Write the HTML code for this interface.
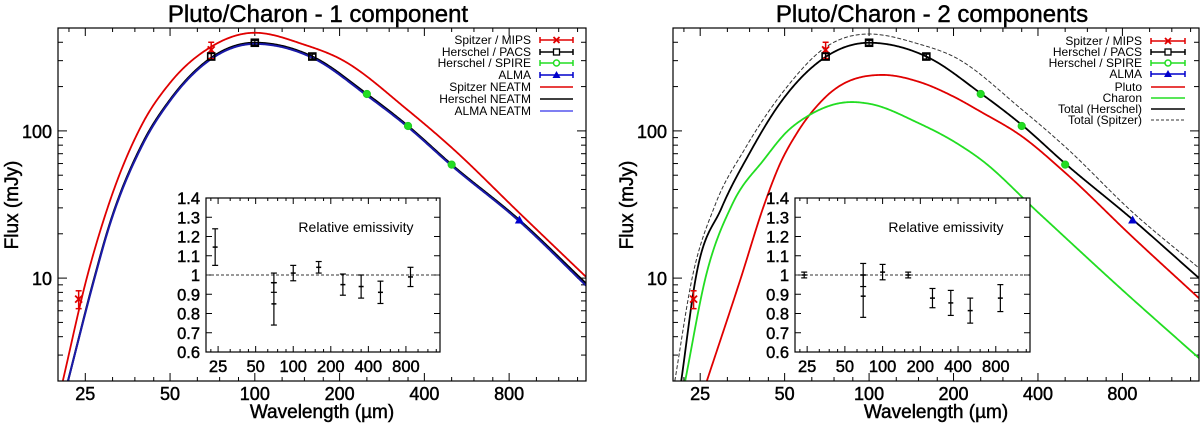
<!DOCTYPE html>
<html><head><meta charset="utf-8"><style>
html,body{margin:0;padding:0;background:#fff;}
svg{display:block;font-family:"Liberation Sans",Arial,sans-serif;}
.hv{stroke:#000;stroke-width:0.45px;}
</style></head><body>
<svg id="chart" width="1200" height="423" viewBox="0 0 1200 423" xmlns="http://www.w3.org/2000/svg"></svg>
<script>
// ---------- data ----------
const L_SPITZER_WL = [20.8,25.3,30,40,50,70,100,150,200,350,500,870,1500];
const L_SPITZER_FLUX = [2,10,30,113,212,373,464,385,310,138,77,27.7,10.2];
const L_HERSCHEL_WL = [21.7,26.9,30,40,50,70,100,160,250,350,500,870,1500];
const L_HERSCHEL_FLUX = [2,10,21,83,163,314,397,320,178,108,59,24.8,9.2];
const L_ALMA_FLUX = [2,9.8,20.6,81,160,308,390,314,174,106,58,24.3,8.9];
const R_SPITZER_WL = [20.3,23.4,28.3,36,50,70,100,150,200,350,500,870,1500];
const R_SPITZER_FLUX = [2,10,31.6,75,190,370,455,390,320,140,78,28,11.7];
const R_HERSCHEL_WL = [21.4,24.1,29.8,37.4,47.9,70,100,160,250,350,500,870,1500];
const R_HERSCHEL_FLUX = [2,10,30,70,152,318,397,320,180,110,60,25,10];
const PLUTO_WL = [26.4,34.9,42.3,48.2,55,70,112,150,200,250,350,500,870,1500];
const PLUTO_FLUX = [2,10,31.6,60,95,170,240,216,171,135,92,52,19,7.3];
const CHARON_WL = [22.1,26.1,32.5,42.1,51.3,60,86.6,100,150,200,250,400,800,1500];
const CHARON_FLUX = [2,10,31.6,63.5,100,125,157,153,113,85,64,28,8.3,2.86];
const SPITZER_WL = [23.68,70];
const SPITZER_FLUX = [7.2,355];
const SPITZER_ERR = [1.0,45];
const PACS_WL = [70,100,160];
const PACS_FLUX = [320,397,320];
const PACS_ERR = [15,15,12];
const SPIRE_WL = [250,350,500];
const SPIRE_FLUX = [178,108,59];
const ALMA_WL = [870];
const ALMA_FLUX = [24.8];
const INSET_WL = [23.68,70,70,100,160,250,350,500,870];
const INSET_L_VAL = [1.145,0.85,0.96,1.01,1.04,0.95,0.94,0.91,0.99];
const INSET_L_ERR = [0.095,0.11,0.05,0.04,0.03,0.055,0.06,0.058,0.05];
const INSET_R_VAL = [1.00,0.89,1.00,1.015,1.00,0.88,0.855,0.815,0.88];
const INSET_R_ERR = [0.015,0.11,0.06,0.04,0.015,0.05,0.065,0.065,0.07];
const X_TICKS = [25,50,100,200,400,800];
const Y_TICKS = [10,100];
const INSET_Y_TICKS = [0.6,0.7,0.8,0.9,1.0,1.1,1.2,1.3,1.4];
const INSET_Y_LABELS = ["0.6","0.7","0.8","0.9","1","1.1","1.2","1.3","1.4"];

// ---------- drawing ----------
const NS = "http://www.w3.org/2000/svg";
const svg = document.getElementById('chart');
function mk(tag, attrs, parent) {
  const e = document.createElementNS(NS, tag);
  for (const k in attrs) e.setAttribute(k, attrs[k]);
  (parent || svg).appendChild(e);
  return e;
}
const XMIN = 20, XMAX = 1500, YMIN = 2, YMAX = 500;

function makeAxes(x0, x1, y0, y1) {
  return {
    x: v => x0 + (x1 - x0) * Math.log(v / XMIN) / Math.log(XMAX / XMIN),
    y: v => y1 - (y1 - y0) * Math.log(v / YMIN) / Math.log(YMAX / YMIN),
    iy: v => y1 - (y1 - y0) * (v - 0.6) / 0.8
  };
}

// monotone cubic Hermite (weighted secants, Fritsch-Carlson limited)
function monoPath(pts) {
  const n = pts.length, X = pts.map(p => p[0]), Y = pts.map(p => p[1]);
  const h = [], d = [], m = [];
  for (let i = 0; i < n - 1; i++) { h.push(X[i + 1] - X[i]); d.push((Y[i + 1] - Y[i]) / h[i]); }
  m[0] = d[0]; m[n - 1] = d[n - 2];
  for (let i = 1; i < n - 1; i++) {
    if (d[i - 1] * d[i] <= 0) { m[i] = 0; continue; }
    m[i] = (h[i] * d[i - 1] + h[i - 1] * d[i]) / (h[i - 1] + h[i]);
  }
  for (let i = 0; i < n - 1; i++) {
    if (d[i] === 0) { m[i] = 0; m[i + 1] = 0; continue; }
    const a = m[i] / d[i], b = m[i + 1] / d[i], s = a * a + b * b;
    if (s > 9) { const t = 3 / Math.sqrt(s); m[i] = t * a * d[i]; m[i + 1] = t * b * d[i]; }
  }
  let s = 'M' + X[0].toFixed(2) + ',' + Y[0].toFixed(2);
  for (let i = 0; i < n - 1; i++) {
    const steps = Math.max(2, Math.ceil(h[i]));
    for (let k = 1; k <= steps; k++) {
      const t = k / steps, t2 = t * t, t3 = t2 * t;
      const y = (2*t3 - 3*t2 + 1) * Y[i] + (t3 - 2*t2 + t) * h[i] * m[i] + (-2*t3 + 3*t2) * Y[i + 1] + (t3 - t2) * h[i] * m[i + 1];
      s += 'L' + (X[i] + t * h[i]).toFixed(2) + ',' + y.toFixed(2);
    }
  }
  return s;
}

function minorList() {
  const out = [];
  for (let a = 12.5; a < XMAX; a *= 2) {
    [1.25, 1.5, 1.75].forEach(m => { const v = a * m; if (v > XMIN && v < XMAX) out.push(v); });
  }
  return out;
}

function drawCurve(g, ax, wl, fl, color, width, dash, name) {
  const pts = wl.map((w, i) => [ax.x(w), ax.y(fl[i])]);
  const p = mk('path', {d: monoPath(pts), fill: 'none', stroke: color, 'stroke-width': width, 'stroke-linejoin': 'round'}, g);
  if (dash) p.setAttribute('stroke-dasharray', dash);
  
  
}

function errBar(g, x, yTop, yBot, color, cap, w) {
  mk('line', {x1: x, x2: x, y1: yTop, y2: yBot, stroke: color, 'stroke-width': w}, g);
  mk('line', {x1: x - cap, x2: x + cap, y1: yTop, y2: yTop, stroke: color, 'stroke-width': w}, g);
  mk('line', {x1: x - cap, x2: x + cap, y1: yBot, y2: yBot, stroke: color, 'stroke-width': w}, g);
}

function marker(g, type, x, y, name) {
  let e;
  if (type === 'x') {
    e = mk('path', {d: `M${x-3.5},${y-3.5}L${x+3.5},${y+3.5}M${x-3.5},${y+3.5}L${x+3.5},${y-3.5}`, stroke: '#e00000', 'stroke-width': 1.8}, g);
  } else if (type === 'sq') {
    e = mk('rect', {x: x - 3.5, y: y - 3.5, width: 7, height: 7, fill: 'none', stroke: '#000', 'stroke-width': 1.6}, g);
  } else if (type === 'circ') {
    e = mk('circle', {cx: x, cy: y, r: 3.6, fill: '#22dd22', stroke: '#22cc22', 'stroke-width': 1}, g);
  } else {
    e = mk('path', {d: `M${x},${y-4.5}L${x+4.5},${y+3.5}L${x-4.5},${y+3.5}Z`, fill: '#0000cc'}, g);
  }
  
  
}

function drawPanel(cfg) {
  const {x0, x1, y0, y1} = cfg;
  const ax = makeAxes(x0, x1, y0, y1);
  const g = mk('g', {});
  
  

  const title = mk('text', {x: (x0 + x1) / 2 - 4, y: 22, 'text-anchor': 'middle', 'font-size': 24, class: 'hv'}, g);
  title.textContent = cfg.title;
  
  

  const clipId = 'clip-' + cfg.id;
  const cp = mk('clipPath', {id: clipId}, g);
  mk('rect', {x: x0, y: y0, width: x1 - x0, height: y1 - y0}, cp);

  const tk = mk('g', {stroke: '#000', 'stroke-width': 1}, g);
  
  
  X_TICKS.forEach(v => {
    const x = ax.x(v);
    mk('line', {x1: x, x2: x, y1: y1, y2: y1 - 8}, tk);
    mk('line', {x1: x, x2: x, y1: y0, y2: y0 + 8}, tk);
    const t = mk('text', {x: x, y: 400, 'text-anchor': 'middle', 'font-size': 18, class: 'hv'}, g);
    t.textContent = v;
    
    
  });
  minorList().forEach(v => {
    const x = ax.x(v);
    mk('line', {x1: x, x2: x, y1: y1, y2: y1 - 4}, tk);
    mk('line', {x1: x, x2: x, y1: y0, y2: y0 + 4}, tk);
  });
  for (let dec = 1; dec <= 100; dec *= 10) {
    for (let m = 1; m <= 9; m++) {
      const v = dec * m;
      if (v <= YMIN || v >= YMAX) continue;
      const y = ax.y(v);
      const len = m === 1 ? 9 : 5;
      mk('line', {x1: x0, x2: x0 + len, y1: y, y2: y}, tk);
      mk('line', {x1: x1, x2: x1 - len, y1: y, y2: y}, tk);
    }
  }
  Y_TICKS.forEach(v => {
    const t = mk('text', {x: x0 - 6, y: ax.y(v) + 7, 'text-anchor': 'end', 'font-size': 18, class: 'hv'}, g);
    t.textContent = v;
    
    
  });

  const xl = mk('text', {x: (x0 + x1) / 2, y: 418, 'text-anchor': 'middle', 'font-size': 19, class: 'hv'}, g);
  xl.textContent = 'Wavelength (µm)';
  
  
  const yl = mk('text', {x: 0, y: 0, 'text-anchor': 'middle', 'font-size': 19, class: 'hv', transform: `translate(${x0 - 40},205) rotate(-90)`}, g);
  yl.textContent = 'Flux (mJy)';
  
  

  const cg = mk('g', {'clip-path': `url(#${clipId})`}, g);
  
  
  cfg.curves.forEach(c => drawCurve(cg, ax, c.wl, c.fl, c.color, c.w, c.dash, c.name));

  const og = mk('g', {}, g);
  
  
  SPITZER_WL.forEach((w, i) => {
    errBar(og, ax.x(w), ax.y(SPITZER_FLUX[i] + SPITZER_ERR[i]), ax.y(SPITZER_FLUX[i] - SPITZER_ERR[i]), '#e00000', 3, 1.5);
    marker(og, 'x', ax.x(w), ax.y(SPITZER_FLUX[i]), 'spitzer-point');
  });
  PACS_WL.forEach((w, i) => {
    errBar(og, ax.x(w), ax.y(PACS_FLUX[i] + PACS_ERR[i]), ax.y(PACS_FLUX[i] - PACS_ERR[i]), '#000', 3, 1.2);
    marker(og, 'sq', ax.x(w), ax.y(PACS_FLUX[i]), 'pacs-point');
  });
  SPIRE_WL.forEach((w, i) => marker(og, 'circ', ax.x(w), ax.y(SPIRE_FLUX[i]), 'spire-point'));
  ALMA_WL.forEach((w, i) => marker(og, 'tri', ax.x(w), ax.y(ALMA_FLUX[i]), 'alma-point'));

  const fr = mk('rect', {x: x0, y: y0, width: x1 - x0, height: y1 - y0, fill: 'none', stroke: '#000', 'stroke-width': 1.2}, g);
  
  

  const lg = mk('g', {}, g);
  
  
  cfg.legend.forEach((L, i) => {
    const y = cfg.legY[i];
    const e = mk('g', {}, lg);
    
    
    const t = mk('text', {x: cfg.legTx, y: y + 4, 'text-anchor': 'end', 'font-size': 12}, e);
    t.textContent = L.label;
    const lx0 = cfg.legL0, lx1 = cfg.legL1, mx = (lx0 + lx1) / 2;
    const ln = mk('line', {x1: lx0, x2: lx1, y1: y, y2: y, stroke: L.color, 'stroke-width': L.w || 1.5}, e);
    if (L.dash) ln.setAttribute('stroke-dasharray', L.dash);
    if (L.mark) {
      mk('line', {x1: lx0, x2: lx0, y1: y - 3, y2: y + 3, stroke: L.color, 'stroke-width': 1.5}, e);
      mk('line', {x1: lx1, x2: lx1, y1: y - 3, y2: y + 3, stroke: L.color, 'stroke-width': 1.5}, e);
      if (L.mark === 'x') mk('path', {d: `M${mx-3},${y-3}L${mx+3},${y+3}M${mx-3},${y+3}L${mx+3},${y-3}`, stroke: L.color, 'stroke-width': 1.8}, e);
      if (L.mark === 'sq') mk('rect', {x: mx - 3, y: y - 3, width: 6, height: 6, fill: '#fff', stroke: '#000', 'stroke-width': 1.3}, e);
      if (L.mark === 'circ') mk('circle', {cx: mx, cy: y, r: 3, fill: '#fff', stroke: L.color, 'stroke-width': 1.5}, e);
      if (L.mark === 'tri') mk('path', {d: `M${mx},${y-4}L${mx+4},${y+3}L${mx-4},${y+3}Z`, fill: L.color}, e);
    }
  });

  const ix0 = cfg.ix0, ix1 = cfg.ix1, iy0 = 198, iy1 = 352;
  const iax = makeAxes(ix0, ix1, iy0, iy1);
  const ig = mk('g', {}, g);
  
  
  mk('rect', {x: ix0, y: iy0, width: ix1 - ix0, height: iy1 - iy0, fill: '#fff', stroke: 'none'}, ig);
  const itk = mk('g', {stroke: '#000', 'stroke-width': 1}, ig);
  INSET_Y_TICKS.forEach((v, i) => {
    const y = iax.iy(v);
    mk('line', {x1: ix0, x2: ix0 + 6, y1: y, y2: y}, itk);
    mk('line', {x1: ix1, x2: ix1 - 6, y1: y, y2: y}, itk);
    const t = mk('text', {x: ix0 - 6, y: y + 6, 'text-anchor': 'end', 'font-size': 16.5, class: 'hv'}, ig);
    t.textContent = INSET_Y_LABELS[i];
    
    
  });
  X_TICKS.forEach(v => {
    const x = iax.x(v);
    mk('line', {x1: x, x2: x, y1: iy1, y2: iy1 - 6}, itk);
    mk('line', {x1: x, x2: x, y1: iy0, y2: iy0 + 6}, itk);
    const t = mk('text', {x: x, y: 372, 'text-anchor': 'middle', 'font-size': 16.5, class: 'hv'}, ig);
    t.textContent = v;
    
    
  });
  minorList().forEach(v => {
    const x = iax.x(v);
    mk('line', {x1: x, x2: x, y1: iy1, y2: iy1 - 3}, itk);
    mk('line', {x1: x, x2: x, y1: iy0, y2: iy0 + 3}, itk);
  });
  const ref = mk('line', {x1: ix0, x2: ix1, y1: iax.iy(1), y2: iax.iy(1), stroke: '#333', 'stroke-width': 1, 'stroke-dasharray': '3,2'}, ig);
  
  
  INSET_WL.forEach((w, i) => {
    const x = iax.x(w), v = cfg.iv[i], e = cfg.ie[i];
    errBar(ig, x, iax.iy(v + e), iax.iy(v - e), '#000', 3, 1.2);
    const p = mk('path', {d: `M${x-2.5},${iax.iy(v)}L${x+2.5},${iax.iy(v)}`, stroke: '#000', 'stroke-width': 1.5}, ig);
    
    
  });
  const it = mk('text', {x: cfg.ilabX, y: 232, 'text-anchor': 'middle', 'font-size': 14}, ig);
  it.textContent = 'Relative emissivity';
  
  
  mk('rect', {x: ix0, y: iy0, width: ix1 - ix0, height: iy1 - iy0, fill: 'none', stroke: '#000', 'stroke-width': 1.2}, ig);
}

drawPanel({
  id: 'one-component', title: 'Pluto/Charon - 1 component',
  x0: 58, x1: 586, y0: 28, y1: 381,
  curves: [
    {wl: L_SPITZER_WL, fl: L_SPITZER_FLUX, color: '#e00000', w: 1.8, name: 'spitzer-neatm-curve'},
    {wl: L_HERSCHEL_WL, fl: L_HERSCHEL_FLUX, color: '#000', w: 2, name: 'herschel-neatm-curve'},
    {wl: L_HERSCHEL_WL, fl: L_ALMA_FLUX, color: '#1a1aa8', w: 2, name: 'alma-neatm-curve'}
  ],
  legend: [
    {label: 'Spitzer / MIPS', color: '#e00000', mark: 'x'},
    {label: 'Herschel / PACS', color: '#000', mark: 'sq'},
    {label: 'Herschel / SPIRE', color: '#22dd22', mark: 'circ'},
    {label: 'ALMA', color: '#0000cc', mark: 'tri'},
    {label: 'Spitzer NEATM', color: '#e00000'},
    {label: 'Herschel NEATM', color: '#000'},
    {label: 'ALMA NEATM', color: '#5555ee'}
  ],
  legY: [40, 52, 63, 75, 87, 99, 111], legTx: 531, legL0: 540, legL1: 573,
  ix0: 206, ix1: 440, iv: INSET_L_VAL, ie: INSET_L_ERR, ilabX: 356
});

drawPanel({
  id: 'two-components', title: 'Pluto/Charon - 2 components',
  x0: 673, x1: 1199, y0: 28, y1: 381,
  curves: [
    {wl: R_SPITZER_WL, fl: R_SPITZER_FLUX, color: '#333', w: 1, dash: '4,2', name: 'total-spitzer-curve'},
    {wl: R_HERSCHEL_WL, fl: R_HERSCHEL_FLUX, color: '#000', w: 1.8, name: 'total-herschel-curve'},
    {wl: PLUTO_WL, fl: PLUTO_FLUX, color: '#e00000', w: 1.8, name: 'pluto-curve'},
    {wl: CHARON_WL, fl: CHARON_FLUX, color: '#22dd22', w: 1.8, name: 'charon-curve'}
  ],
  legend: [
    {label: 'Spitzer / MIPS', color: '#e00000', mark: 'x'},
    {label: 'Herschel / PACS', color: '#000', mark: 'sq'},
    {label: 'Herschel / SPIRE', color: '#22dd22', mark: 'circ'},
    {label: 'ALMA', color: '#0000cc', mark: 'tri'},
    {label: 'Pluto', color: '#e00000'},
    {label: 'Charon', color: '#22dd22'},
    {label: 'Total (Herschel)', color: '#000'},
    {label: 'Total (Spitzer)', color: '#333', w: 1, dash: '3,2'}
  ],
  legY: [41, 52, 63, 74, 87, 98, 109, 120], legTx: 1142, legL0: 1151, legL1: 1185,
  ix0: 795, ix1: 1030, iv: INSET_R_VAL, ie: INSET_R_ERR, ilabX: 946
});
</script>
</body></html>
